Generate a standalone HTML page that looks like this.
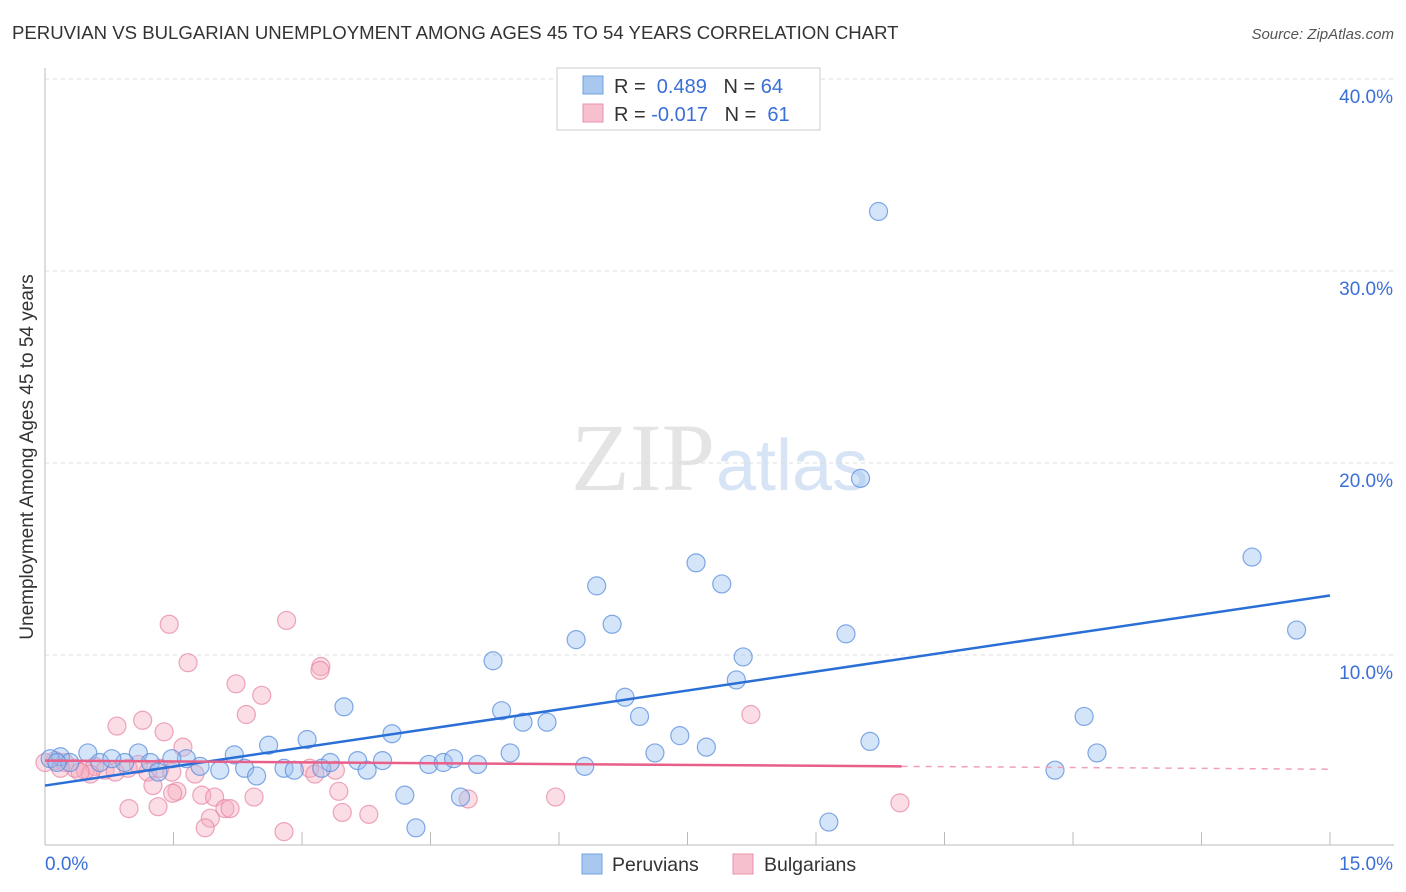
<!DOCTYPE html>
<html><head><meta charset="utf-8"><style>
body{margin:0;background:#fff;font-family:"Liberation Sans",sans-serif;}
svg{display:block}
</style></head><body>
<svg id="chart" width="1406" height="892">
<text x="12" y="39" font-size="18.6" fill="#333">PERUVIAN VS BULGARIAN UNEMPLOYMENT AMONG AGES 45 TO 54 YEARS CORRELATION CHART</text>
<text x="1394" y="39" font-size="15" fill="#555" text-anchor="end" font-style="italic">Source: ZipAtlas.com</text>
<text x="715" y="490" font-size="96" fill="#e4e4e4" text-anchor="end" font-family="Liberation Serif,serif">ZIP</text>
<text x="716" y="490" font-size="72" fill="#d6e4f5">atlas</text>
<text transform="translate(33,457) rotate(-90)" font-size="19" fill="#333" text-anchor="middle">Unemployment Among Ages 45 to 54 years</text>
<g id="grid"></g><g id="pts"></g><g id="lines"></g>
<g>
<rect x="557" y="68" width="263" height="62" fill="#fff" stroke="#ccc"/>
<rect x="583" y="76" width="20" height="18" fill="#a8c8f0" stroke="#6fa0e0"/>
<rect x="583" y="104" width="20" height="18" fill="#f7c0cf" stroke="#e890a8"/>
<text x="614" y="93" font-size="20" fill="#333">R = <tspan fill="#3a6fd8">&#160;0.489</tspan>&#160;&#160;&#160;N = <tspan fill="#3a6fd8">64</tspan></text>
<text x="614" y="121" font-size="20" fill="#333">R = <tspan fill="#3a6fd8">-0.017</tspan>&#160;&#160;&#160;N = <tspan fill="#3a6fd8">&#160;61</tspan></text>
</g>
<g>
<rect x="582" y="854" width="20" height="20" fill="#a8c8f0" stroke="#6fa0e0"/>
<text x="612" y="871" font-size="19.5" fill="#333">Peruvians</text>
<rect x="733" y="854" width="20" height="20" fill="#f7c0cf" stroke="#e890a8"/>
<text x="764" y="871" font-size="19.5" fill="#333">Bulgarians</text>
</g>
</svg>
<script>
const yTicks=[10,20,30,40];
const xTickLabels=["0.0%","15.0%"];
const blueX=[9.73,9.52,14.09,14.61,7.6,7.9,6.44,6.62,6.2,9.35,5.23,8.15,8.07,6.77,6.94,5.33,5.58,5.86,12.13,3.49,7.41,7.72,9.63,7.12,5.43,4.05,3.06,2.61,2.21,1.65,1.09,0.5,0.18,0.06,0.29,0.64,0.93,1.23,1.48,1.81,2.04,2.33,2.47,2.79,2.91,3.23,3.33,3.65,3.76,3.94,4.48,4.65,4.77,5.05,6.3,11.79,12.28,4.2,4.85,4.33,9.15,1.32,0.78,0.14];
const blueY=[33.1,19.2,15.1,11.3,14.8,13.7,13.6,11.6,10.8,11.1,9.7,9.9,8.7,7.8,6.8,7.1,6.5,6.5,6.8,7.3,5.8,5.2,5.5,4.9,4.9,5.9,5.6,5.3,4.8,4.6,4.9,4.9,4.7,4.6,4.4,4.4,4.4,4.4,4.6,4.2,4.0,4.1,3.7,4.1,4.0,4.1,4.4,4.5,4.0,4.5,4.3,4.4,4.6,4.3,4.2,4.0,4.9,2.7,2.6,1.0,1.3,3.9,4.6,4.4];
const pinkX=[1.45,2.82,1.67,3.22,3.21,2.23,2.53,2.35,1.14,0.84,1.39,8.24,1.61,0.12,0.23,0.35,0.47,0.58,0.7,0.82,0.97,1.09,1.2,1.34,1.48,1.75,0.53,3.09,3.15,3.39,1.26,1.54,1.49,1.83,1.98,2.1,2.16,2.44,3.43,0.98,1.32,1.93,1.87,2.79,3.47,3.78,4.94,5.96,9.98,0.0,0.18,0.41];
const pinkY=[11.6,11.8,9.6,9.4,9.2,8.5,7.9,6.9,6.6,6.3,6.0,6.9,5.2,4.5,4.4,4.1,4.0,4.2,4.0,3.9,4.1,4.3,3.9,4.1,3.9,3.8,3.8,4.1,3.8,4.0,3.2,2.9,2.8,2.7,2.6,2.0,2.0,2.6,2.9,2.0,2.1,1.5,1.0,0.8,1.8,1.7,2.5,2.6,2.3,4.4,4.1,3.9];
const blueLine=[3.2,13.1], pinkLine=[4.5,4.05], pinkSolidEnd=10;
const X0=45,X1=1330,Y0=847,PY=19.2;
const sx=v=>X0+(X1-X0)*v/15, sy=v=>Y0-v*PY;
const NS="http://www.w3.org/2000/svg";
function mk(t,a,p){const e=document.createElementNS(NS,t);for(const k in a)e.setAttribute(k,a[k]);p.appendChild(e);return e;}
const g=document.getElementById('grid');
const ax=mk('line',{x1:45,y1:68,x2:45,y2:845,stroke:'#bbb'},g);

const bx=mk('line',{x1:45,y1:845,x2:1394,y2:845,stroke:'#bbb'},g);

for(let i=1;i<=10;i++){const x=sx(i*1.5);const t=mk('line',{x1:x,y1:832,x2:x,y2:845,stroke:'#bbb'},g);
}
yTicks.forEach(v=>{const y=sy(v);
const l=mk('line',{x1:45,y1:y,x2:1394,y2:y,stroke:'#ddd','stroke-dasharray':'4,4'},g);

const t=mk('text',{x:1393,y:y+24,'font-size':19,fill:'#3a6fd8','text-anchor':'end'},g);t.textContent=v.toFixed(1)+'%';
});
const xl0=mk('text',{x:45,y:870,'font-size':19,fill:'#3a6fd8'},g);xl0.textContent=xTickLabels[0];

const xl1=mk('text',{x:1393,y:870,'font-size':19,fill:'#3a6fd8','text-anchor':'end'},g);xl1.textContent=xTickLabels[1];

const P=document.getElementById('pts');
pinkX.forEach((v,i)=>{const c=mk('circle',{cx:sx(v),cy:sy(pinkY[i]),r:9,fill:'rgba(245,170,190,0.4)',stroke:'rgba(230,130,160,0.7)','stroke-width':1.2},P);
});
blueX.forEach((v,i)=>{const c=mk('circle',{cx:sx(v),cy:sy(blueY[i]),r:9,fill:'rgba(150,190,240,0.4)',stroke:'rgba(90,140,220,0.75)','stroke-width':1.2},P);
});
const L=document.getElementById('lines');
const bl=mk('line',{x1:sx(0),y1:sy(blueLine[0]),x2:sx(15),y2:sy(blueLine[1]),stroke:'#2a6fd6','stroke-width':2.5},L);

const pAt=v=>pinkLine[0]+(pinkLine[1]-pinkLine[0])*v/15;
const pl=mk('line',{x1:sx(0),y1:sy(pAt(0)),x2:sx(pinkSolidEnd),y2:sy(pAt(pinkSolidEnd)),stroke:'#e8608a','stroke-width':2.5},L);

const pd=mk('line',{x1:sx(pinkSolidEnd),y1:sy(pAt(pinkSolidEnd)),x2:sx(15),y2:sy(pAt(15)),stroke:'#f0a0b8','stroke-width':1.5,'stroke-dasharray':'6,6'},L);

</script>
</body></html>
